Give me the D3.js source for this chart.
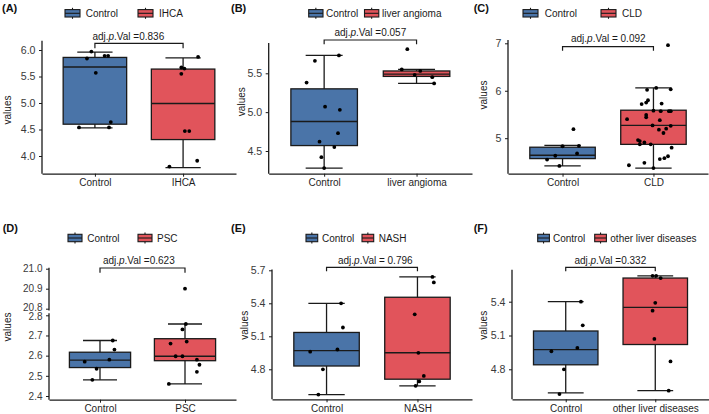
<!DOCTYPE html>
<html><head><meta charset="utf-8">
<script src="https://cdn.jsdelivr.net/npm/d3@7"></script>
<style>
body{margin:0;background:#fff}
svg{display:block}
text{font-family:"Liberation Sans",Arial,sans-serif}
</style>
</head><body>
<svg id="chart" width="709" height="414"></svg>
<script>
// ---------------- DATA ----------------
const panelLabels = ["(A)","(B)","(C)","(D)","(E)","(F)"];
const groupNames = [
  ["Control","IHCA"],
  ["Control","liver angioma"],
  ["Control","CLD"],
  ["Control","PSC"],
  ["Control","NASH"],
  ["Control","other liver diseases"]
];
const pValueTexts = ["=0.836","=0.057","= 0.092","=0.623","= 0.796","=0.332"];

// box statistics per group: [min, q1, median, q3, max]
const boxA = [[4.53,4.60,5.68,5.86,5.96],[3.78,4.31,4.99,5.64,5.85]];
const boxB = [[4.28,4.57,4.88,5.30,5.73],[5.37,5.46,5.49,5.53,5.55]];
const boxC = [[4.415,4.57,4.64,4.81,4.85],[4.37,4.87,5.27,5.59,6.06]];
const boxD = [[2.48,2.541,2.578,2.617,2.675],[2.46,2.575,2.597,2.684,2.757]];
const boxE = [[4.57,4.83,4.97,5.135,5.40],[4.65,4.71,4.95,5.455,5.64]];
const boxF = [[4.59,4.84,4.975,5.14,5.40],[4.61,5.02,5.35,5.61,5.63]];

// individual samples per group: [value, jitter (category units)]
const pointsA = [
  [[5.97,-0.04],[5.84,-0.09],[5.57,0.01],[5.89,0.11],[5.89,0.15],[4.64,0.18],[4.54,-0.18],[4.54,0.16]],
  [[5.87,0.17],[5.67,-0.02],[5.65,0.015],[5.55,-0.02],[4.47,0.02],[4.47,0.07],[3.91,0.16],[3.80,-0.155]]
];
const pointsB = [
  [[5.66,-0.10],[5.73,0.16],[5.38,-0.19],[5.07,0.01],[5.03,0.17],[4.73,0.15],[4.62,-0.05],[4.55,0.11],[4.42,-0.03],[4.28,0.0]],
  [[5.81,-0.10],[5.55,-0.16],[5.53,0.04],[5.48,-0.02],[5.45,0.17],[5.37,0.19]]
];
const pointsC = [
  [[5.19,0.12],[4.84,0.18],[4.83,0.0],[4.68,0.16],[4.63,-0.08],[4.55,-0.17],[4.415,-0.035]],
  [[6.96,0.16],[6.02,-0.07],[6.06,0.03],[6.03,0.19],[5.72,-0.13],[5.75,-0.08],[5.80,-0.06],[5.73,0.09],
   [5.58,0.0],[5.57,0.08],[5.57,0.17],[5.57,0.19],[5.49,-0.08],[5.44,-0.08],[5.40,-0.29],[5.38,0.07],
   [5.27,-0.01],[5.20,0.14],[5.18,0.06],[5.11,0.11],[5.26,0.19],[4.96,-0.17],[4.94,-0.15],[4.91,-0.10],
   [4.87,-0.15],[4.87,-0.03],[4.80,0.20],[4.62,0.16],[4.58,0.12],[4.56,0.07],[4.48,-0.10],[4.43,-0.27],[4.37,0.0]]
];
const pointsD = [
  [[2.675,0.15],[2.63,0.17],[2.58,0.11],[2.57,-0.18],[2.535,-0.04],[2.48,-0.09]],
  [[20.9,0.0],[2.757,0.01],[2.73,-0.03],[2.66,-0.17],[2.67,0.02],[2.597,-0.11],[2.597,-0.03],[2.58,0.14],[2.555,0.17],[2.52,0.14],[2.46,-0.19]]
];
const pointsE = [
  [[5.40,0.16],[5.18,0.18],[4.98,0.12],[4.96,-0.18],[4.80,-0.04],[4.57,-0.09]],
  [[5.64,0.165],[5.59,0.18],[5.30,-0.03],[4.95,0.01],[4.74,0.07],[4.69,0.02],[4.65,-0.02]]
];
const pointsF = [
  [[5.40,0.17],[5.19,0.19],[4.99,0.13],[4.96,-0.16],[4.80,-0.02],[4.58,-0.07]],
  [[5.63,-0.03],[5.63,0.01],[5.61,0.06],[5.39,0.0],[5.32,-0.03],[5.07,-0.01],[4.87,0.17],[4.61,0.15]]
];

// y tick labels per panel
const ticksA = [4.0,4.5,5.0,5.5,6.0];
const ticksB = [4.5,5.0,5.5];
const ticksC = [5,6,7];
const ticksD = [2.4,2.5,2.6,2.7,2.8,20.8,20.9,21.0];
const ticksE = [4.8,5.1,5.4,5.7];
const ticksF = [4.8,5.1,5.4];

// ---------------- STYLE / LAYOUT ----------------
const colors = ["#4A74A8","#E1545B"];
const ink = "#1a1a1a";

const layouts = [
  {lab:[2,11.5], left:42, right:236, top:40.7, bottom:173.7, yDom:[4.0,6.0], yRng:[156,50], fmt:".1f", tfs:10.6,
   axisSegs:[[173.7,40.7]], leg:{cy:13.3,k1:65,w:15,t1:85.7,k2:138,t2:159},
   ann:{x:128.3,y:40,by:43.3,bt:48.3}, ylab:[7.3,110]},
  {lab:[231,11.5], left:268.7, right:472, top:43, bottom:173.7, yDom:[4.5,5.5], yRng:[151,73.3], fmt:".1f", tfs:10.6,
   axisSegs:[[173.7,43]], leg:{cy:13.3,k1:308.7,w:14.3,t1:326,k2:364.5,t2:382},
   ann:{x:370.3,y:35.7,by:40,bt:44.3}, ylab:[241,101.7]},
  {lab:[473.7,11.5], left:508, right:708, top:40, bottom:173.7, yDom:[5,7], yRng:[138.2,43.3], fmt:"d", tfs:10.6,
   axisSegs:[[173.7,40]], leg:{cy:13.3,k1:523,w:15,t1:544.7,k2:601,t2:622},
   ann:{x:608.3,y:42.3,by:46.7,bt:50.7}, ylab:[483.7,95]},
  {lab:[2.7,231.5], left:49, right:236, top:267.7, bottom:399.7, yDom:[2.4,2.8,20.8,21.0], yRng:[396,315.3,308.7,268.7], fmt:".1f", tfs:10,
   nudge:{"20.8":-1.6,"2.8":1.4},
   axisSegs:[[399.7,313.3],[310.6,267.7]], leg:{cy:238,k1:68,w:14,t1:87.3,k2:138,t2:157},
   ann:{x:138.8,y:263.7,by:268,bt:272.7}, ylab:[7.3,327]},
  {lab:[231,231.5], left:272, right:472, top:269.5, bottom:399.3, yDom:[4.8,5.7], yRng:[369.3,270.3], fmt:".1f", tfs:10.6,
   axisSegs:[[399.3,269.5]], leg:{cy:238,k1:306,w:11.7,t1:322,k2:362,t2:378.7},
   ann:{x:375.3,y:263.7,by:267.3,bt:271.3}, ylab:[244.3,325.3]},
  {lab:[473.7,231.5], left:512, right:709, top:269.7, bottom:399.3, yDom:[4.8,5.4], yRng:[369.3,301.7], fmt:".1f", tfs:10.6,
   axisSegs:[[399.3,269.7]], leg:{cy:238,k1:537.7,w:11.7,t1:553,k2:594.7,t2:610.3},
   ann:{x:610.3,y:263.7,by:267.3,bt:271.3}, ylab:[483.7,325.3]}
];

const boxes = [boxA,boxB,boxC,boxD,boxE,boxF];
const points = [pointsA,pointsB,pointsC,pointsD,pointsE,pointsF];
const ticks = [ticksA,ticksB,ticksC,ticksD,ticksE,ticksF];

// ---------------- DRAW ----------------
const svg = d3.select("#chart");
svg.append("rect").attr("width",709).attr("height",414).attr("fill","#fff");

layouts.forEach((L,i)=>{
  const g = svg.append("g");
  const x = d3.scaleLinear().domain([0.4,2.6]).range([L.left,L.right]);
  const y = d3.scaleLinear().domain(L.yDom).range(L.yRng);
  const fmt = d3.format(L.fmt);

  // panel label
  g.append("text").attr("x",L.lab[0]).attr("y",L.lab[1]).attr("font-size",11)
    .attr("font-weight","bold").attr("fill","#111").text(panelLabels[i]);

  // legend
  const lg = g.append("g");
  [[L.leg.k1,L.leg.t1],[L.leg.k2,L.leg.t2]].forEach((kt,j)=>{
    const kx = kt[0], cy = L.leg.cy, w = L.leg.w, h = 7.4;
    lg.append("line").attr("x1",kx+w/2).attr("x2",kx+w/2).attr("y1",cy-h/2-1.8).attr("y2",cy+h/2+1.8)
      .attr("stroke",ink).attr("stroke-width",1.1);
    lg.append("rect").attr("x",kx).attr("y",cy-h/2).attr("width",w).attr("height",h)
      .attr("fill",colors[j]).attr("stroke",ink).attr("stroke-width",1.1);
    lg.append("line").attr("x1",kx).attr("x2",kx+w).attr("y1",cy).attr("y2",cy)
      .attr("stroke",ink).attr("stroke-width",1.1);
    lg.append("text").attr("x",kt[1]).attr("y",cy+3.6).attr("font-size",10).attr("fill",ink)
      .text(groupNames[i][j]);
  });

  // y axis
  const yAxis = d3.axisLeft(y).tickValues(ticks[i]).tickFormat(fmt)
    .tickSize(3).tickPadding(3.5);
  const ya = g.append("g").attr("transform",`translate(${L.left},0)`).call(yAxis);
  ya.select(".domain").remove();
  ya.selectAll(".tick line").attr("stroke",ink).attr("stroke-width",1);
  ya.selectAll(".tick text").attr("font-size",L.tfs).attr("fill","#3a3a3a")
    .attr("font-family","'Liberation Sans',Arial,sans-serif");
  if (L.nudge) {
    ya.selectAll(".tick text").attr("y",d=>L.nudge[fmt(d)]||0);
  }
  L.axisSegs.forEach(s=>{
    g.append("line").attr("x1",L.left).attr("x2",L.left).attr("y1",s[0]).attr("y2",s[1])
      .attr("stroke",ink).attr("stroke-width",1.3);
  });

  // x axis
  const xAxis = d3.axisBottom(x).tickValues([1,2]).tickFormat(d=>groupNames[i][d-1])
    .tickSize(3).tickSizeOuter(0).tickPadding(2.5);
  const xa = g.append("g").attr("transform",`translate(0,${L.bottom})`).call(xAxis);
  xa.select(".domain").attr("stroke",ink).attr("stroke-width",1.3);
  xa.selectAll(".tick line").attr("stroke",ink);
  xa.selectAll(".tick text").attr("font-size",10).attr("fill","#1f1f1f")
    .attr("font-family","'Liberation Sans',Arial,sans-serif");

  // y label
  g.append("text").attr("transform",`translate(${L.ylab[0]},${L.ylab[1]}) rotate(-90)`)
    .attr("text-anchor","middle").attr("dy","0.35em").attr("font-size",10).attr("fill",ink)
    .text("values");

  // boxplots
  const hw = (x(1.36)-x(1)), cw = (x(1.2)-x(1));
  boxes[i].forEach((b,j)=>{
    const cx = x(j+1);
    const bg = g.append("g");
    bg.append("line").attr("x1",cx).attr("x2",cx).attr("y1",y(b[4])).attr("y2",y(b[0]))
      .attr("stroke",ink).attr("stroke-width",1.3);
    [b[0],b[4]].forEach(v=>{
      bg.append("line").attr("x1",cx-cw).attr("x2",cx+cw).attr("y1",y(v)).attr("y2",y(v))
        .attr("stroke",ink).attr("stroke-width",1.3);
    });
    bg.append("rect").attr("x",cx-hw).attr("width",2*hw)
      .attr("y",y(b[3])).attr("height",y(b[1])-y(b[3]))
      .attr("fill",colors[j]).attr("stroke",ink).attr("stroke-width",1.3);
    bg.append("line").attr("x1",cx-hw).attr("x2",cx+hw).attr("y1",y(b[2])).attr("y2",y(b[2]))
      .attr("stroke",ink).attr("stroke-width",1.4);
  });

  // points
  points[i].forEach((grp,j)=>{
    g.selectAll(null).data(grp).enter().append("circle")
      .attr("cx",d=>x(j+1+d[1])).attr("cy",d=>y(d[0])).attr("r",1.9).attr("fill","#000");
  });

  // significance bracket
  const A = L.ann;
  g.append("path").attr("d",`M${x(1)},${A.bt}L${x(1)},${A.by}L${x(2)},${A.by}L${x(2)},${A.bt}`)
    .attr("fill","none").attr("stroke",ink).attr("stroke-width",1.2);
  const t = g.append("text").attr("x",A.x).attr("y",A.y).attr("text-anchor","middle")
    .attr("font-size",10).attr("fill",ink);
  t.append("tspan").text("adj.");
  t.append("tspan").attr("font-style","italic").text("p");
  t.append("tspan").text(".Val " + pValueTexts[i]);
});
</script>
</body></html>
